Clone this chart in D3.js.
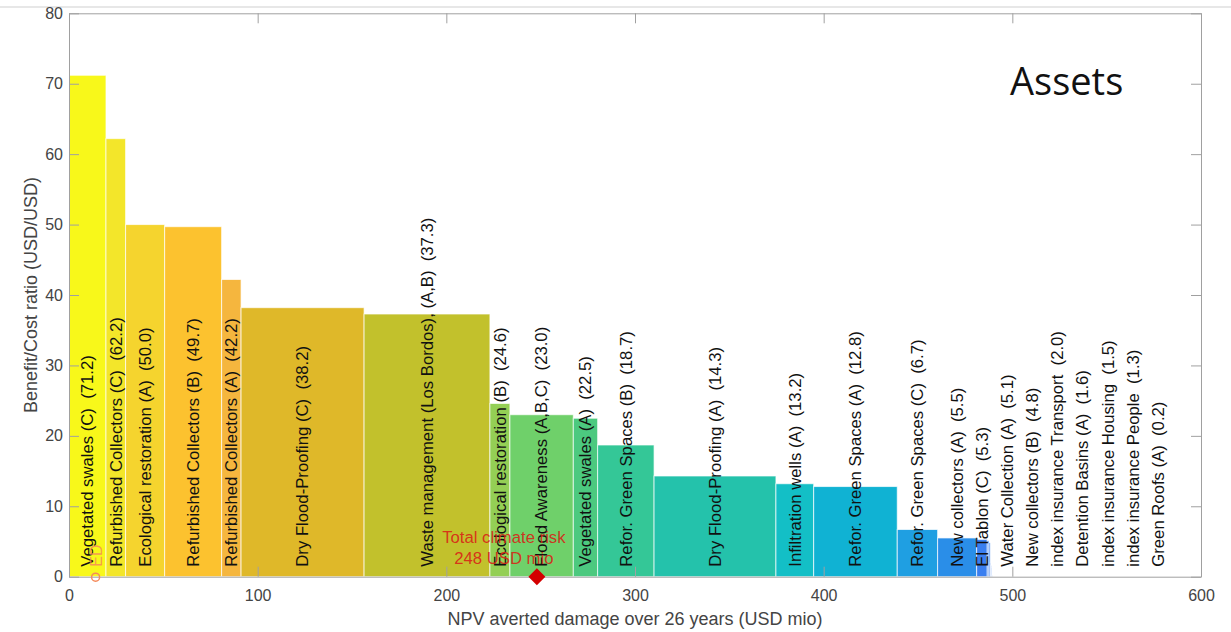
<!DOCTYPE html>
<html>
<head>
<meta charset="utf-8">
<script src="https://cdn.jsdelivr.net/npm/d3@7"></script>
<style>
  html, body { margin: 0; padding: 0; background: #fff; }
  svg { display: block; }
  text { font-family: Arial, "Liberation Sans", sans-serif; }
</style>
</head>
<body>
<svg id="chart" width="1231" height="632"></svg>
<script>
// ---- data ----
const measures = [
  "Vegetated swales (C)", "Refurbished Collectors (C)", "Ecological restoration (A)",
  "Refurbished Collectors (B)", "Refurbished Collectors (A)", "Dry Flood-Proofing (C)",
  "Waste management (Los Bordos), (A,B)", "Ecological restoration (B)", "Flood Awareness (A,B,C)",
  "Vegetated swales (A)", "Refor. Green Spaces (B)", "Dry Flood-Proofing (A)",
  "Infiltration wells (A)", "Refor. Green Spaces (A)", "Refor. Green Spaces (C)",
  "New collectors (A)", "El Tablon (C)", "Water Collection (A)", "New collectors (B)",
  "index insurance Transport", "Detention Basins (A)", "index insurance Housing",
  "index insurance People", "Green Roofs (A)"
];
const bcRatio = [71.2, 62.2, 50.0, 49.7, 42.2, 38.2, 37.3, 24.6, 23.0, 22.5, 18.7, 14.3,
                 13.2, 12.8, 6.7, 5.5, 5.3, 5.1, 4.8, 2.0, 1.6, 1.5, 1.3, 0.2];
const avertedDamage = [19.6, 10.4, 20.7, 30.2, 10.3, 65.2, 66.7, 10.6, 33.6, 12.9, 29.9, 64.6,
                       20.0, 44.3, 21.4, 20.7, 5.6, 0.9, 0.7, 0.3, 0.2, 0.2, 0.2, 0.1];
const barColors = ["#f8f81a", "#f3e62a", "#f5d42e", "#fcc22f", "#f5b63e", "#dfb829",
                   "#c2c12c", "#94cf55", "#6fd06a", "#4cc97f", "#34c797", "#24c2ab",
                   "#13bfc6", "#10b2d3", "#1f9fe2", "#2a8ee8", "#3a7ff0", "#3a7ff0",
                   "#3a7ff0", "#3a7ff0", "#3a7ff0", "#3a7ff0", "#3a7ff0", "#3a7ff0"];
const xTicks = [0, 100, 200, 300, 400, 500, 600];
const yTicks = [0, 10, 20, 30, 40, 50, 60, 70, 80];
const totalClimateRisk = 248;
const expectedDamage = 14.1;
const xLabel = "NPV averted damage over 26 years (USD mio)";
const yLabel = "Benefit/Cost ratio (USD/USD)";
const panelTitle = "Assets";

// ---- layout ----
const svg = d3.select("#chart");
const L = 69, R = 1201, T = 13.3, B = 576.7;
const x = d3.scaleLinear().domain([0, 600]).range([L, R]);
const y = d3.scaleLinear().domain([0, 80]).range([B, T]);

// frame line at top of the picture
svg.append("line").attr("x1", 0).attr("x2", 1231).attr("y1", 7).attr("y2", 7)
  .attr("stroke", "#cfcfcf").attr("stroke-width", 1.2);

// build bars
let cum = 0;
const bars = measures.map((m, i) => {
  const x0 = cum; cum += avertedDamage[i];
  return { name: m, bc: bcRatio[i], x0: x0, x1: cum, color: barColors[i] };
});

svg.append("g").selectAll("rect").data(bars).join("rect")
  .attr("x", d => x(d.x0))
  .attr("width", d => Math.max(0, x(d.x1) - x(d.x0)))
  .attr("y", d => y(d.bc))
  .attr("height", d => y(0) - y(d.bc))
  .attr("fill", d => d.color)
  .attr("stroke", "#ffffff").attr("stroke-opacity", 0.7).attr("stroke-width", 1);

// axes
const axisColor = "#a0a0a0";
const tickColor = "#444";
function styleAxis(g) {
  g.selectAll("path.domain").attr("stroke", axisColor);
  g.selectAll(".tick line").attr("stroke", axisColor);
  g.selectAll(".tick text").attr("fill", tickColor).style("font-size", "16px")
    .style("font-family", "Arial, 'Liberation Sans', sans-serif");
}
svg.append("g").attr("transform", `translate(0,${B})`)
  .call(d3.axisBottom(x).tickValues(xTicks).tickSizeInner(-10).tickSizeOuter(0).tickPadding(13))
  .call(styleAxis);
svg.append("g").attr("transform", `translate(0,${T})`)
  .call(d3.axisTop(x).tickValues(xTicks).tickSizeInner(-10).tickSizeOuter(0).tickFormat(""))
  .call(styleAxis);
svg.append("g").attr("transform", `translate(${L},0)`)
  .call(d3.axisLeft(y).tickValues(yTicks).tickSizeInner(-10).tickSizeOuter(0).tickPadding(6))
  .call(styleAxis);
svg.append("g").attr("transform", `translate(${R},0)`)
  .call(d3.axisRight(y).tickValues(yTicks).tickSizeInner(-10).tickSizeOuter(0).tickFormat(""))
  .call(styleAxis);

// bar labels (spread so they don't overlap)
const minSep = 13.3;
let prev = -Infinity;
bars.forEach(d => {
  let c = (d.x0 + d.x1) / 2;
  if (c < prev + minSep) c = prev + minSep;
  d.lx = c; prev = c;
});
svg.append("g").selectAll("text").data(bars).join("text")
  .attr("transform", d => `translate(${x(d.lx)},${B - 10}) rotate(-90)`)
  .attr("dy", "0.35em")
  .attr("text-anchor", "start")
  .style("font-size", "16.7px")
  .style("white-space", "pre")
  .attr("fill", "#111")
  .text(d => `${d.name}  (${d.bc.toFixed(1)})`);

// expected damage marker
svg.append("circle").attr("cx", x(expectedDamage)).attr("cy", B + 0.5).attr("r", 4)
  .attr("fill", "none").attr("stroke", "#f58a5a").attr("stroke-width", 1.5);
svg.append("text")
  .attr("transform", `translate(${x(expectedDamage) + 1},${B - 10}) rotate(-90)`)
  .attr("dy", "0.35em").style("font-size", "16px")
  .attr("fill", "#f58a5a").attr("fill-opacity", 0.85).text("ED");

// total climate risk marker
const tx = x(totalClimateRisk), s = 8.5;
svg.append("path")
  .attr("d", `M${tx},${B - s} L${tx + s},${B} L${tx},${B + s} L${tx - s},${B} Z`)
  .attr("fill", "#d40000");
const risk = svg.append("text").attr("text-anchor", "middle")
  .attr("fill", "#d92316").attr("fill-opacity", 0.9).style("font-size", "16.7px");
risk.append("tspan").attr("x", tx - 33).attr("y", 543).text("Total climate risk");
risk.append("tspan").attr("x", tx - 33).attr("y", 564).text(`${totalClimateRisk} USD mio`);

// axis titles
svg.append("text").attr("x", (L + R) / 2).attr("y", 625).attr("text-anchor", "middle")
  .style("font-size", "18px").attr("fill", "#444").text(xLabel);
svg.append("text").attr("transform", `translate(37,${(T + B) / 2}) rotate(-90)`)
  .attr("text-anchor", "middle").style("font-size", "18px").attr("fill", "#444").text(yLabel);

// panel title
svg.append("text").attr("x", 1010).attr("y", 95)
  .style("font-family", "'Open Sans', Carlito, Calibri, Lato, sans-serif")
  .style("font-size", "38px").attr("fill", "#111").text(panelTitle);
</script>
</body>
</html>
